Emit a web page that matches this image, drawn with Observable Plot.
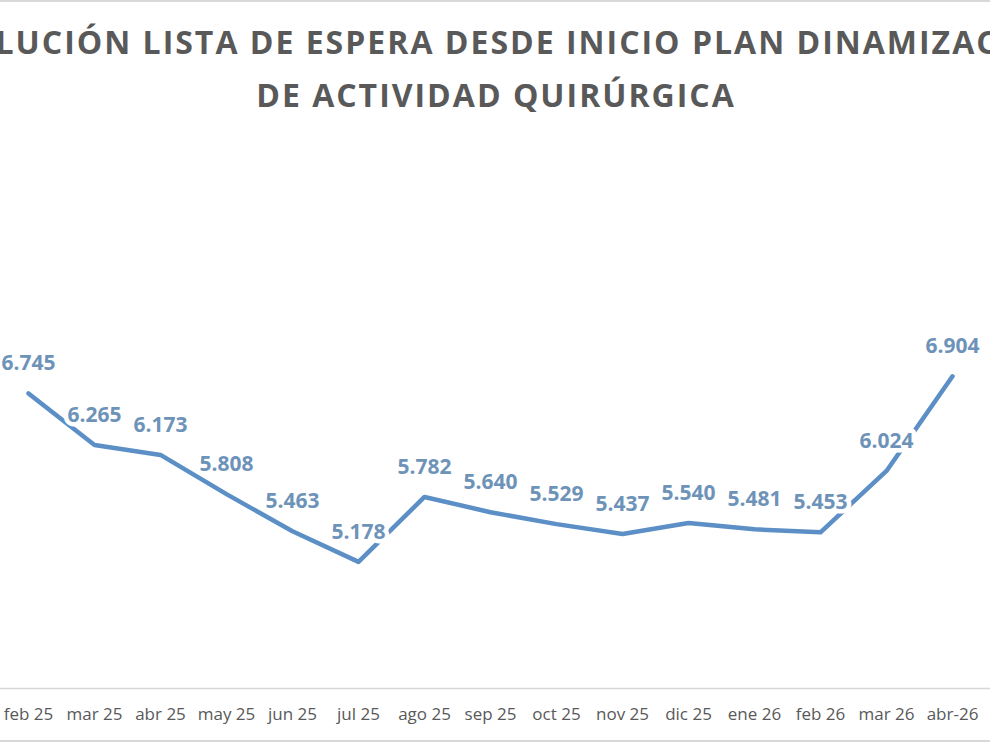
<!DOCTYPE html>
<html>
<head>
<meta charset="utf-8">
<script src="https://cdn.jsdelivr.net/npm/d3@7"></script>
<script src="https://cdn.jsdelivr.net/npm/@observablehq/plot@0.6"></script>
<style>
  html, body { margin: 0; padding: 0; background: #fff; }
  #wrap { position: relative; width: 990px; height: 743px; overflow: hidden; background: #fff; }
  .title { position: absolute; left: -304px; width: 1600px; text-align: center; white-space: nowrap; line-height: 1;
           font-family: "Open Sans", sans-serif; font-weight: 700; font-size: 32px; color: #595959; letter-spacing: 2px; }
  .hline { position: absolute; left: 0; width: 990px; height: 2px; background: #d9d9d9; }
  #chart { position: absolute; left: 0; top: 0; }
</style>
</head>
<body>
<div id="wrap">
  <div class="hline" style="top:0px"></div>
  <div class="title" style="top:26px">EVOLUCIÓN LISTA DE ESPERA DESDE INICIO PLAN DINAMIZACIÓN</div>
  <div class="title" style="top:79px">DE ACTIVIDAD QUIRÚRGICA</div>
  <div id="chart"></div>
  <div class="hline" style="top:740px"></div>
</div>
<script>
const months = ["feb 25","mar 25","abr 25","may 25","jun 25","jul 25","ago 25","sep 25","oct 25","nov 25","dic 25","ene 26","feb 26","mar 26","abr-26"];
const patients = [6745, 6265, 6173, 5808, 5463, 5178, 5782, 5640, 5529, 5437, 5540, 5481, 5453, 6024, 6904];
const yDomain = [4000, 8000];

const data = months.map((m, i) => ({month: m, value: patients[i]}));
const es = d3.formatLocale({decimal: ",", thousands: ".", grouping: [3], currency: ["", "€"]});
const fmt = es.format(",");

const lineColor = "#5B8FC6";
const labelColor = "#6E93B9";

const chart = Plot.plot({
  width: 990,
  height: 743,
  marginLeft: 22,
  marginRight: 33,
  marginTop: 258,
  marginBottom: 55,
  style: {fontFamily: "'Open Sans', sans-serif", background: "transparent"},
  x: {type: "point", domain: months, padding: 0, label: null},
  y: {domain: yDomain, axis: null},
  marks: [
    Plot.ruleY([yDomain[0]], {stroke: "#d6d6d6", strokeWidth: 1.6, insetLeft: -22, insetRight: -33}),
    Plot.axisX({tickSize: 0, tickPadding: 19, fontSize: 17, fill: "#595959", color: "#595959"}),
    Plot.line(data, {x: "month", y: "value", stroke: lineColor, strokeWidth: 4.5, strokeLinejoin: "round", strokeLinecap: "round"}),
    Plot.text(data, {x: "month", y: "value", text: d => fmt(d.value), dy: -30, fontSize: 21, fontWeight: "bold",
                     fill: labelColor, stroke: "white", strokeWidth: 9})
  ]
});
document.getElementById("chart").appendChild(chart);
</script>
</body>
</html>
